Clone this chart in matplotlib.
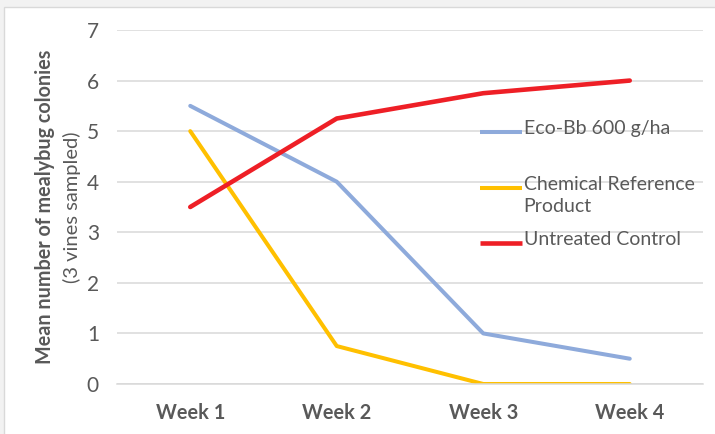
import matplotlib.pyplot as plt
from matplotlib.patches import Rectangle

weeks = ["Week 1", "Week 2", "Week 3", "Week 4"]
eco_bb = [5.5, 4.0, 1.0, 0.5]
chemical = [5.0, 0.75, 0.0, 0.0]
untreated = [3.5, 5.25, 5.75, 6.0]

series_names = ["Eco-Bb 600 g/ha", "Chemical Reference\nProduct", "Untreated Control"]
series_values = [eco_bb, chemical, untreated]
series_colors = ["#8eaadb", "#ffc000", "#ee1f26"]
series_widths = [2.9, 2.9, 3.3]

plt.rcParams['font.family'] = ['Lato', 'DejaVu Sans']
grey = "#595959"

fig = plt.figure(figsize=(7.15, 4.34), dpi=100)
fig.patches.append(Rectangle((0, 0), 1, 1, transform=fig.transFigure,
                             facecolor="#f2f2f2", edgecolor="none", zorder=-3))
fig.patches.append(Rectangle((4 / 715, -0.05), 1.05, 1 - 7 / 434 + 0.05,
                             transform=fig.transFigure, facecolor="white",
                             edgecolor="#d9d9d9", linewidth=1, zorder=-2))

ax = fig.add_axes([117 / 715, 1 - 384 / 434, 586 / 715, 354 / 434])
ax.set_facecolor("none")

x = list(range(len(weeks)))
for name, vals, col, lw in zip(series_names, series_values, series_colors, series_widths):
    ax.plot(x, vals, color=col, lw=lw, solid_capstyle="round", solid_joinstyle="round")

ax.set_xlim(-0.5, len(weeks) - 0.5)
ax.set_ylim(0, 7)
ax.set_yticks(range(0, 8))
ax.set_xticks(x)
ax.set_xticklabels(weeks, fontweight="bold")
ax.tick_params(axis="y", length=0, pad=13, labelsize=15, labelcolor=grey)
ax.tick_params(axis="x", length=0, pad=14, labelsize=14.3, labelcolor=grey)
ax.grid(axis="y", color="#d9d9d9", lw=1.1)
ax.set_axisbelow(True)
for s in ["top", "right", "left"]:
    ax.spines[s].set_visible(False)
ax.spines["bottom"].set_color("#d9d9d9")
ax.spines["bottom"].set_linewidth(1.1)

# legend drawn inside the plot, handle aligned with the first text line
leg_y = [0.712, 0.554, 0.398]
for name, col, lw, yy in zip(series_names, series_colors, series_widths, leg_y):
    ax.plot([0.619, 0.691], [yy, yy], transform=ax.transAxes, color=col, lw=lw,
            solid_capstyle="butt", clip_on=False)
    ax.text(0.694, yy + 0.034, name, transform=ax.transAxes, ha="left", va="top",
            fontsize=14, color=grey, linespacing=1.38)

fig.text(45 / 715, 1 - 207 / 434, "Mean number of mealybug colonies", rotation=90,
         ha="center", va="center", fontsize=14.2, fontweight="bold", color=grey)
fig.text(72 / 715, 1 - 207 / 434, "(3 vines sampled)", rotation=90,
         ha="center", va="center", fontsize=14.5, color=grey)

fig.savefig("out.png", dpi=100)
